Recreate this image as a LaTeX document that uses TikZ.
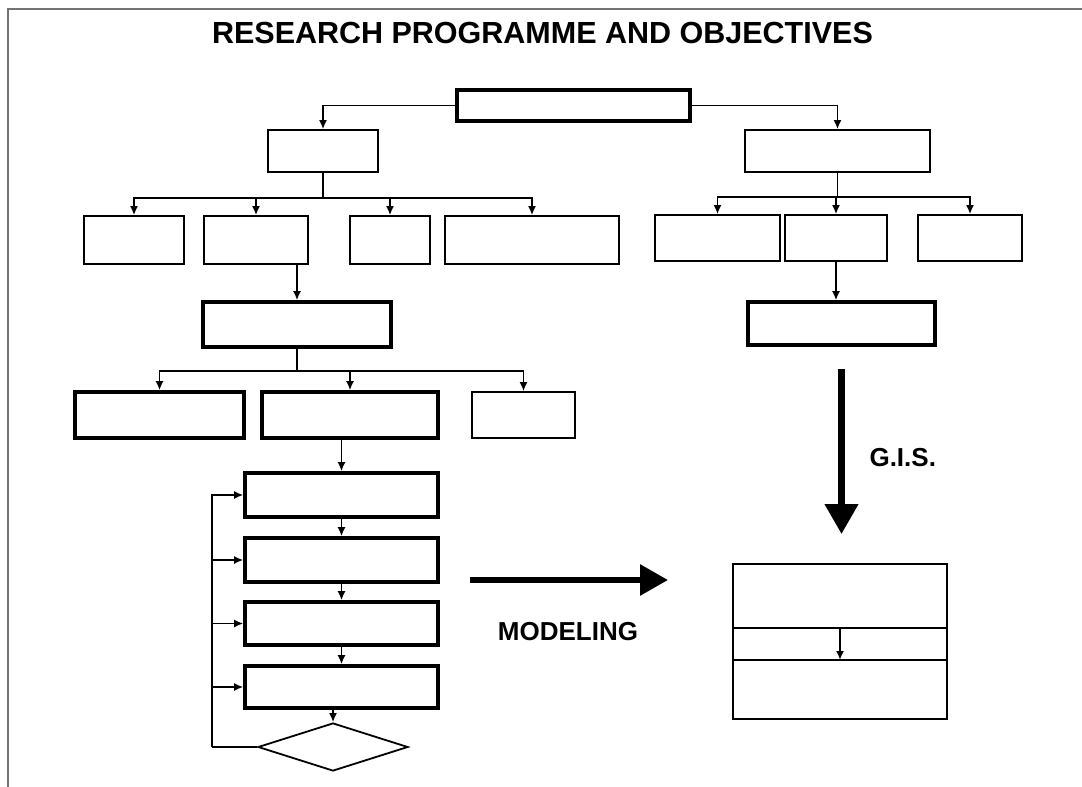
\documentclass[tikz,border=0pt]{standalone}
\usepackage{fontspec}
\setmainfont{Liberation Sans}
\usetikzlibrary{arrows.meta,shapes.geometric}
\tikzset{
  thinbox/.style={draw=black, line width=1.8pt, minimum width=#1, inner sep=0pt},
  thickbox/.style={draw=black, line width=3.6pt, minimum width=#1, inner sep=0pt},
  conn/.style={draw=black, line width=1.6pt},
  arr/.style={conn, -{Latex[length=9pt,width=8pt]}},
  bigarrow/.style={draw=black, line width=7pt, -{Triangle[length=30pt,width=32pt]}},
  frameline/.style={draw=gray!90!black, line width=1.5pt},
  bigtext/.style={font=\bfseries\fontsize{26}{28}\selectfont},
}
\begin{document}
\begin{tikzpicture}[x=1pt,y=-1pt]
\useasboundingbox (0,0) rectangle (1082,787);
% page frame
\draw[frameline] (8,787) -- (8,9) -- (1082,9);
% title
\node[font=\bfseries\fontsize{30.5}{33}\selectfont] (title) at (542.5,33) {RESEARCH PROGRAMME AND OBJECTIVES};
% top
\node[thickbox=233pt, minimum height=31pt] (top) at (573.5,105.5) {};
\node[thinbox=110pt, minimum height=42pt] (L1) at (323,151) {};
\node[thinbox=185pt, minimum height=42pt] (R1) at (837.5,151) {};
% left row 2
\node[thinbox=100pt, minimum height=48pt] (A) at (134,240) {};
\node[thinbox=104pt, minimum height=48pt] (B) at (256,240) {};
\node[thinbox=80pt, minimum height=48pt] (C) at (390,240) {};
\node[thinbox=174pt, minimum height=48pt] (D) at (532,240) {};
% right row 2
\node[thinbox=125pt, minimum height=46pt] (E) at (717.5,238) {};
\node[thinbox=102pt, minimum height=46pt] (F) at (836,238) {};
\node[thinbox=104pt, minimum height=46pt] (G) at (970,238) {};
\node[thickbox=187pt, minimum height=43pt] (R2) at (841.5,323.5) {};
% left row 3
\node[thickbox=188pt, minimum height=45pt] (M1) at (297,324.5) {};
\node[thickbox=169pt, minimum height=46pt] (N1) at (159.5,415) {};
\node[thickbox=176pt, minimum height=46pt] (N2) at (350,415) {};
\node[thinbox=103pt, minimum height=46pt] (N3) at (523.5,415) {};
% process chain
\node[thickbox=193pt, minimum height=44pt] (P1) at (341.5,495) {};
\node[thickbox=193pt, minimum height=44pt] (P2) at (341.5,560) {};
\node[thickbox=193pt, minimum height=43pt] (P3) at (341.5,623.5) {};
\node[thickbox=193pt, minimum height=42pt] (P4) at (341.5,687) {};
\node[diamond, aspect=3.1, draw=black, line width=1.8pt, minimum width=150pt, minimum height=48pt, inner sep=0pt] (dia) at (333,747) {};
% result box
\node[thinbox=214pt, minimum height=155pt] (Q) at (840,641.5) {};
\coordinate (q1) at (733,628);
\coordinate (q2) at (947,628);
\coordinate (q3) at (733,660);
\coordinate (q4) at (947,660);
\draw[conn] (q1) -- (q2);
\draw[conn] (q3) -- (q4);
\draw[arr] (q1 -| Q.center) -- (q3 -| Q.center);
% connectors top
\draw[arr] (top.west) -| (L1.north);
\draw[arr] (top.east) -| (R1.north);
% L1 bus
\draw[arr] (L1.south) -- ++(0,25) -| (A.north);
\draw[arr] (L1.south) -- ++(0,25) -| (B.north);
\draw[arr] (L1.south) -- ++(0,25) -| (C.north);
\draw[arr] (L1.south) -- ++(0,25) -| (D.north);
% R1 bus
\draw[arr] (R1.south) -- ++(0,24) -| (E.north);
\draw[arr] (R1.south) -- ++(0,24) -| (F.north);
\draw[arr] (R1.south) -- ++(0,24) -| (G.north);
\draw[arr] (F.south) -- (F.south |- R2.north);
% row2 to M1
\draw[arr] (B.south -| M1.north) -- (M1.north);
% M1 bus
\draw[arr] (M1.south) -- ++(0,22) -| (N1.north);
\draw[arr] (M1.south) -- ++(0,22) -| (N2.north);
\draw[arr] (M1.south) -- ++(0,22) -| (N3.north);
% chain
\draw[arr] (N2.south -| P1.north) -- (P1.north);
\draw[arr] (P1) -- (P2);
\draw[arr] (P2) -- (P3);
\draw[arr] (P3) -- (P4);
\draw[arr] (P4.south -| dia.north) -- (dia.north);
% feedback
\coordinate (fb) at (212,747);
\draw[conn] (dia.west) -- (fb);
\draw[arr] (fb) |- (P1.west);
\draw[arr] (fb) |- (P2.west);
\draw[arr] (fb) |- (P3.west);
\draw[arr] (fb) |- (P4.west);
% big arrows
\draw[bigarrow, shorten <=22pt, shorten >=29pt] (R2.south) -- (R2.south |- Q.north);
\node[bigtext, anchor=west] (gis) at (866,458) {G.I.S.};
\coordinate (ms) at (470,580);
\coordinate (me) at (668,580);
\draw[bigarrow, line width=6pt, -{Triangle[length=28pt,width=30pt]}] (ms) -- (me);
\node[bigtext] (mod) at (568,632) {MODELING};
\end{tikzpicture}
\end{document}
